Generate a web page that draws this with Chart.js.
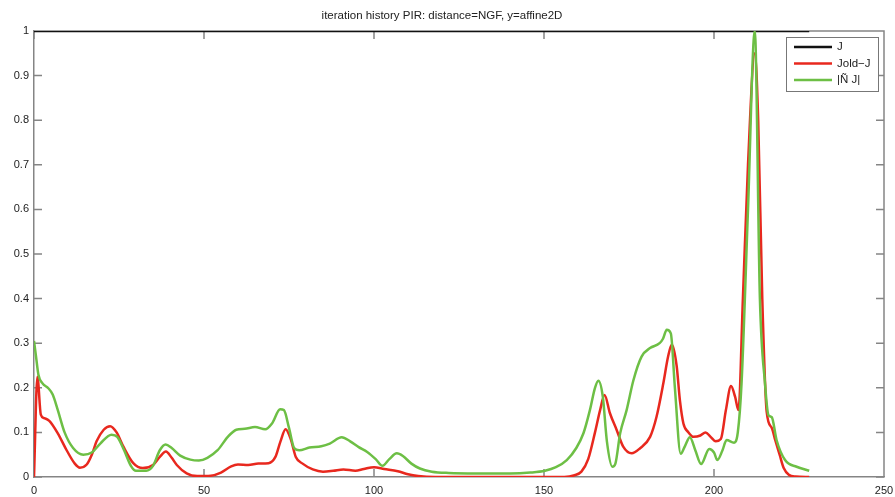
<!DOCTYPE html>
<html>
<head>
<meta charset="utf-8">
<title>iteration history PIR</title>
<script src="https://cdn.jsdelivr.net/npm/chart.js@4.4.1/dist/chart.umd.min.js"></script>
<style>
  html, body { margin: 0; padding: 0; background: #ffffff; }
  #wrap { width: 895px; height: 497px; }
</style>
</head>
<body>
<div id="wrap"><canvas id="c" width="895" height="497"></canvas></div>
<script>
// Iteration history of the PIR optimiser (normalised quantities)
const titleText = 'iteration history PIR: distance=NGF, y=affine2D';
const seriesLabels = ['J', 'Jold\u2212J', '|\u00D1 J|'];

const xTicks = [0, 50, 100, 150, 200, 250];
const yTicks = [0, 0.1, 0.2, 0.3, 0.4, 0.5, 0.6, 0.7, 0.8, 0.9, 1];

// J (normalised objective)
const jIter   = [0, 50, 100, 150, 200, 228];
const jValues = [1, 1, 1, 1, 1, 1];

// Jold - J
const dIter = [0, 1, 2, 3, 4.5, 7, 9.6, 12, 13.5, 15.5, 17, 18.4, 20.5, 22.4, 24.3, 26.3, 29.2, 32, 35, 37, 38.8,
  40.5, 42, 44.9, 48, 52, 55, 58, 60, 63, 66, 69, 71, 72.5, 74, 75.5, 77, 79, 82, 85, 88, 91, 94.5, 97,
  100, 103, 107, 110, 113, 118, 156, 159, 161, 163, 165, 166.5, 167.8, 169.4, 171.4, 173.3, 175.8, 178.2,
  181.2, 183.1, 185.1, 186.5, 187.6, 189, 190, 191, 192.5, 194, 196, 197.5, 199, 200.5, 202, 203.5, 205,
  206.2, 207.2, 208.5, 210, 212, 213, 214.2, 215.5, 217, 218, 219.3, 220.5, 222, 224, 228];
const dValues = [0, 0.225, 0.14, 0.132, 0.126, 0.098, 0.06, 0.03, 0.021, 0.028, 0.05, 0.08, 0.106, 0.114, 0.1, 0.068, 0.031, 0.02, 0.027, 0.045, 0.057,
  0.043, 0.027, 0.008, 0.002, 0.003, 0.01, 0.024, 0.028, 0.027, 0.03, 0.031, 0.045, 0.08, 0.107, 0.085, 0.045, 0.03, 0.017, 0.012, 0.014, 0.017, 0.014, 0.018,
  0.022, 0.018, 0.013, 0.006, 0.002, 0, 0, 0.004, 0.012, 0.04, 0.1, 0.15, 0.184, 0.143, 0.105, 0.068, 0.053, 0.064,
  0.09, 0.135, 0.21, 0.27, 0.297, 0.25, 0.17, 0.12, 0.1, 0.09, 0.093, 0.1, 0.09, 0.08, 0.085, 0.15, 0.204,
  0.18, 0.15, 0.4, 0.7, 0.95, 0.8, 0.4, 0.146, 0.11, 0.083, 0.05, 0.02, 0.005, 0.001, 0];

// |grad J|
const gIter = [0, 0.6, 1.3, 2.5, 4.2, 5.5, 7, 9, 11.5, 14.5, 17, 19.5, 22.8, 24.5, 26.5, 28.5, 30, 33, 35, 37,
  38.7, 40.5, 43, 46, 48.5, 51, 54, 57, 59.5, 62, 65, 68, 70, 72.4, 73.5, 75, 76.5, 78, 81, 84.5, 87, 90.5,
  93, 95.5, 98, 100.5, 102.5, 104.5, 106.7, 108.5, 111, 113.5, 117, 122, 130, 140, 146, 150.3, 153.5, 156.7,
  159.5, 161.6, 163.5, 165, 166, 167.3, 168.5, 170.1, 171, 172.4, 174.3, 176.3, 178.7, 181.2, 184, 185, 186.1,
  187.3, 188.5, 190.2, 191.5, 192.9, 194.5, 196.2, 198.6, 200, 201, 202.5, 203.7, 205.9, 207, 208.1, 210, 212,
  213.5, 215, 216, 217, 218.4, 220.9, 224.3, 228];
const gValues = [0.305, 0.27, 0.229, 0.21, 0.199, 0.185, 0.15, 0.1, 0.065, 0.05, 0.055, 0.075, 0.095, 0.09, 0.06, 0.025, 0.014, 0.014, 0.025, 0.06,
  0.073, 0.065, 0.048, 0.039, 0.037, 0.043, 0.06, 0.09, 0.106, 0.108, 0.112, 0.107, 0.12, 0.152, 0.15, 0.11, 0.065, 0.06, 0.066, 0.069, 0.075, 0.089,
  0.08, 0.067, 0.056, 0.04, 0.025, 0.04, 0.053, 0.047, 0.03, 0.019, 0.012, 0.009, 0.008, 0.008, 0.01, 0.014, 0.022, 0.038,
  0.065, 0.098, 0.15, 0.2, 0.216, 0.18, 0.08, 0.023, 0.03, 0.098, 0.15, 0.217, 0.27, 0.289, 0.3, 0.31, 0.33,
  0.322, 0.2, 0.052, 0.07, 0.089, 0.06, 0.029, 0.063, 0.055, 0.038, 0.06, 0.083, 0.077, 0.1, 0.21, 0.6, 1.0,
  0.4, 0.21, 0.139, 0.134, 0.083, 0.038, 0.023, 0.014];

const COLORS = ['#111111', '#e8281e', '#6dbf45'];
const FONT = "'Liberation Sans', Arial, sans-serif";
const AXIS = '#858585';

const toPoints = (xs, ys) => xs.map((x, i) => ({ x: x, y: ys[i] }));

// Box frame with inward tick marks on all four sides
const framePlugin = {
  id: 'frame',
  beforeDatasetsDraw(chart) {
    const { ctx, chartArea: a, scales } = chart;
    ctx.save();
    ctx.strokeStyle = AXIS;
    ctx.lineWidth = 1.5;
    ctx.beginPath();
    ctx.moveTo(a.left, a.top); ctx.lineTo(a.right, a.top); ctx.lineTo(a.right, a.bottom);
    const L = 8;
    xTicks.forEach(v => {
      const px = scales.x.getPixelForValue(v);
      ctx.moveTo(px, a.bottom); ctx.lineTo(px, a.bottom - L);
      ctx.moveTo(px, a.top); ctx.lineTo(px, a.top + L);
    });
    yTicks.forEach(v => {
      const py = scales.y.getPixelForValue(v);
      ctx.moveTo(a.left, py); ctx.lineTo(a.left + L, py);
      ctx.moveTo(a.right, py); ctx.lineTo(a.right - L, py);
    });
    ctx.stroke();
    ctx.restore();
  }
};

// Boxed legend in the upper right corner of the plot area
const boxLegendPlugin = {
  id: 'boxLegend',
  afterDatasetsDraw(chart) {
    const { ctx, chartArea: a } = chart;
    const w = 92, h = 54;
    const x0 = a.right - 98, y0 = a.top + 6;
    ctx.save();
    ctx.fillStyle = '#ffffff';
    ctx.fillRect(x0, y0, w, h);
    ctx.strokeStyle = '#777777';
    ctx.lineWidth = 1;
    ctx.strokeRect(x0 + 0.5, y0 + 0.5, w, h);
    ctx.font = '11.5px ' + FONT;
    ctx.textBaseline = 'middle';
    ctx.textAlign = 'left';
    chart.data.datasets.forEach((ds, i) => {
      const yy = y0 + 10 + i * 16.5;
      ctx.strokeStyle = ds.borderColor;
      ctx.lineWidth = 2.5;
      ctx.beginPath();
      ctx.moveTo(x0 + 8, yy); ctx.lineTo(x0 + 46, yy);
      ctx.stroke();
      ctx.fillStyle = '#222222';
      ctx.fillText(ds.label, x0 + 51, yy);
    });
    ctx.restore();
  }
};

const lineDefaults = {
  pointRadius: 0,
  borderWidth: 2.5,
  fill: false,
  cubicInterpolationMode: 'monotone',
  tension: 0.4
};

new Chart(document.getElementById('c'), {
  type: 'line',
  data: {
    datasets: [
      Object.assign({ label: seriesLabels[0], data: toPoints(jIter, jValues), borderColor: COLORS[0], order: 3 }, lineDefaults),
      Object.assign({ label: seriesLabels[1], data: toPoints(dIter, dValues), borderColor: COLORS[1], order: 2 }, lineDefaults),
      Object.assign({ label: seriesLabels[2], data: toPoints(gIter, gValues), borderColor: COLORS[2], order: 1 }, lineDefaults)
    ]
  },
  options: {
    responsive: false,
    animation: false,
    devicePixelRatio: 1,
    layout: { padding: { left: 0, right: 11, top: 0, bottom: 0 } },
    plugins: {
      legend: { display: false },
      tooltip: { enabled: false },
      title: {
        display: true,
        text: titleText,
        color: '#222222',
        font: { family: FONT, size: 11.5, weight: 'normal' },
        padding: { top: 8.5, bottom: 8.7 }
      }
    },
    scales: {
      x: {
        type: 'linear',
        min: 0, max: 250,
        afterBuildTicks: s => { s.ticks = xTicks.map(v => ({ value: v })); },
        afterFit: s => { s.height = 20; s.paddingLeft = 0; s.paddingRight = 0; },
        grid: { drawOnChartArea: false, drawTicks: false },
        border: { color: AXIS, width: 1.5 },
        ticks: { color: '#222222', font: { family: FONT, size: 11 }, padding: 7, maxRotation: 0 }
      },
      y: {
        type: 'linear',
        min: 0, max: 1,
        afterBuildTicks: s => { s.ticks = yTicks.map(v => ({ value: v })); },
        afterFit: s => { s.width = 34; s.paddingTop = 0; s.paddingBottom = 0; },
        grid: { drawOnChartArea: false, drawTicks: false },
        border: { color: AXIS, width: 1.5 },
        ticks: { color: '#222222', font: { family: FONT, size: 11 }, padding: 5, callback: v => String(+v.toFixed(1)) }
      }
    }
  },
  plugins: [framePlugin, boxLegendPlugin]
});
</script>
</body>
</html>
